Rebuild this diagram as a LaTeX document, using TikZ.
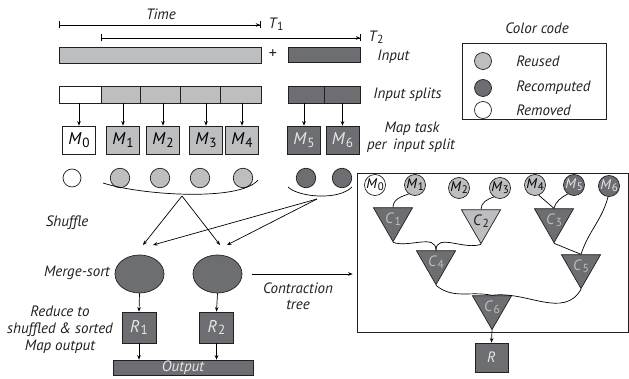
\documentclass[tikz,border=0pt]{standalone}
\usepackage{fontspec}
\setmainfont{PT Sans}
\usetikzlibrary{arrows.meta,shapes.geometric,calc}
\definecolor{lgray}{HTML}{BCBEC0}
\definecolor{dgray}{HTML}{6D6E71}
\definecolor{ink}{HTML}{231F20}
\definecolor{ltxt}{HTML}{E6E7E8}
\newcommand\Ml[2]{\textit{#1}\kern0.04em\raisebox{-0.28ex}{\fontsize{0.78\dimexpr\csname f@size\endcsname pt\relax}{1}\selectfont\upshape#2}}
\begin{document}
\begin{tikzpicture}[x=1pt,y=1pt, line width=0.7pt,
  >={Stealth[length=4.5pt,width=3.6pt]},
  lab/.style={font=\fontsize{15}{17}\selectfont\itshape, text=ink, inner sep=0},
  rbox/.style={draw=ink, rectangle, inner sep=0},
  mbox/.style={rbox, minimum width=33, minimum height=28, font=\fontsize{17}{19}\selectfont},
  mdot/.style={circle, draw=ink, inner sep=0, minimum size=19.5},
  tdot/.style={circle, draw=ink, inner sep=0, minimum size=21, font=\fontsize{14}{16}\selectfont},
  tri/.style={regular polygon, regular polygon sides=3, shape border rotate=180, minimum size=37,
    inner sep=0, draw=ink, font=\fontsize{15}{17}\selectfont},
  edge/.style={draw=ink, line width=0.7pt}]
\useasboundingbox (0,0) rectangle (629,-379);

% time lines
\coordinate (t0) at (59,-25);
\coordinate (t1) at (261,-25);
\coordinate (u0) at (101,-38);
\coordinate (u1) at (361,-38);
\draw[{Bar[width=7pt]}-{Stealth[length=4.5pt,width=3.6pt] Bar[width=7pt]}] (t0) -- (t1);
\draw[{Bar[width=7pt]}-{Stealth[length=4.5pt,width=3.6pt] Bar[width=7pt]}] (u0) -- (u1);
\node[lab] (time) at (161,-14) {Time};
\node[lab] (T1) at (276,-24) {\Ml{T}{1}};
\node[lab] (T2) at (376,-37.5) {\Ml{T}{2}};

% input
\node[rbox, fill=lgray, minimum width=202, minimum height=16] (inA) at (160,-55) {};
\node[lab, font=\fontsize{16}{18}\selectfont] (plus) at (273,-54) {+};
\node[rbox, fill=dgray, minimum width=72, minimum height=15] (inB) at (324,-54.5) {};
\node[lab, anchor=west] (inlab) at (377,-57) {Input};

% splits
\node[rbox, fill=white, minimum width=42, minimum height=17] (s0) at (80,-94.5) {};
\node[rbox, fill=lgray, minimum width=39.5, minimum height=17] (s1) at (120.75,-94.5) {};
\node[rbox, fill=lgray, minimum width=40, minimum height=17] (s2) at (160.5,-94.5) {};
\node[rbox, fill=lgray, minimum width=40, minimum height=17] (s3) at (200.5,-94.5) {};
\node[rbox, fill=lgray, minimum width=40.5, minimum height=17] (s4) at (240.75,-94.5) {};
\node[rbox, fill=dgray, minimum width=36, minimum height=17] (s5) at (306,-94.5) {};
\node[rbox, fill=dgray, minimum width=36, minimum height=17] (s6) at (342,-94.5) {};
\node[lab, anchor=west] (splab) at (373,-95) {Input splits};

% map tasks
\node[mbox, fill=white] (m0) at (79,-140) {\Ml{M}{0}};
\node[mbox, fill=lgray] (m1) at (123,-140) {\Ml{M}{1}};
\node[mbox, fill=lgray] (m2) at (163,-140) {\Ml{M}{2}};
\node[mbox, fill=lgray] (m3) at (206,-140) {\Ml{M}{3}};
\node[mbox, fill=lgray] (m4) at (242,-140) {\Ml{M}{4}};
\node[mbox, fill=dgray, text=ltxt] (m5) at (304,-140) {\Ml{M}{5}};
\node[mbox, fill=dgray, text=ltxt] (m6) at (342.5,-140) {\Ml{M}{6}};
\node[lab] (mt1) at (412,-129) {Map task};
\node[lab] (mt2) at (411,-146) {per\, input split};
\foreach \i in {0,...,6}{\draw[->] (m\i.north |- s\i.south) -- (m\i.north);}

% map outputs
\node[mdot, fill=white, minimum size=18] (c0) at (72,-178) {};
\node[mdot, fill=lgray] (c1) at (120,-178) {};
\node[mdot, fill=lgray] (c2) at (160,-178) {};
\node[mdot, fill=lgray] (c3) at (200,-178) {};
\node[mdot, fill=lgray] (c4) at (243,-178) {};
\node[mdot, fill=dgray] (c5) at (306,-178) {};
\node[mdot, fill=dgray] (c6) at (342,-178) {};

% braces
\coordinate (gb0) at (103,-183);
\coordinate (gb1) at (258,-180);
\coordinate (ga) at (182,-196);
\coordinate (db0) at (288,-187);
\coordinate (db1) at (352,-187);
\coordinate (da) at (317,-199);
\draw (gb0) .. controls (140,-195) and (240,-202) .. (gb1);
\draw (db0) .. controls (298,-197) and (338,-201) .. (db1);

% merge-sort
\node[ellipse, draw=ink, fill=dgray, minimum width=49, minimum height=38, inner sep=0] (e1) at (139.5,-274) {};
\node[ellipse, draw=ink, fill=dgray, minimum width=49, minimum height=38, inner sep=0] (e2) at (217.5,-274) {};
\coordinate (e1a) at (143,-245);
\coordinate (e1b) at (153,-245);
\coordinate (e2a) at (220,-245);
\coordinate (e2b) at (227,-245);
\draw[->] (ga) -- (e1a);
\draw[->] (ga) -- (e2a);
\draw[->] (da) -- (e1b);
\draw[->] (da) -- (e2b);
\node[lab] (shuf) at (67,-223) {Shuffle};
\node[lab] (msort) at (77,-273) {Merge-sort};

% reduce
\node[rbox, fill=dgray, text=ltxt, minimum width=34, minimum height=31, font=\fontsize{17}{19}\selectfont] (r1) at (139,-327.5) {\Ml{R}{1}};
\node[rbox, fill=dgray, text=ltxt, minimum width=34, minimum height=31, font=\fontsize{17}{19}\selectfont] (r2) at (216.5,-327.5) {\Ml{R}{2}};
\node[rbox, fill=dgray, text=ltxt, minimum width=140, minimum height=15, font=\fontsize{15}{17}\selectfont\itshape] (out) at (183,-367.5) {Output};
\draw[->] (e1.south) -- (r1.north);
\draw[->] (e2.south) -- (r2.north);
\draw[->] (r1.south) -- (r1.south |- out.north);
\draw[->] (r2.south) -- (r2.south |- out.north);
\node[lab, align=center] (red) at (60,-330) {Reduce to\\shuffled \& sorted\\Map output};

% contraction tree box
\node[rbox, minimum width=271, minimum height=159] (tb) at (492.5,-252.5) {};
\draw[->, shorten <=10pt, shorten >=4pt] (e2.east) -- (e2.east -| tb.west);
\node[lab] (ct1) at (298,-288) {Contraction};
\node[lab] (ct2) at (298,-305) {tree};

\node[tdot, fill=white] (n0) at (375,-185) {\Ml{M}{0}};
\node[tdot, fill=lgray] (n1) at (415,-185) {\Ml{M}{1}};
\node[tdot, fill=lgray] (n2) at (459,-188) {\Ml{M}{2}};
\node[tdot, fill=lgray] (n3) at (500,-188) {\Ml{M}{3}};
\node[tdot, fill=lgray] (n4) at (535,-185) {\Ml{M}{4}};
\node[tdot, fill=dgray, text=ltxt] (n5) at (574,-185) {\Ml{M}{5}};
\node[tdot, fill=dgray, text=ltxt] (n6) at (609,-186) {\Ml{M}{6}};

\node[tri, fill=dgray, text=lgray] (k1) at (393,-219) {\Ml{C}{1}};
\node[tri, fill=lgray, text=ink] (k2) at (481,-221) {\Ml{C}{2}};
\node[tri, fill=dgray, text=lgray] (k3) at (554,-220) {\Ml{C}{3}};
\node[tri, fill=dgray, text=lgray] (k4) at (436,-262) {\Ml{C}{4}};
\node[tri, fill=dgray, text=lgray] (k5) at (581,-266) {\Ml{C}{5}};
\node[tri, fill=dgray, text=lgray] (k6) at (492,-307) {\Ml{C}{6}};

\draw (n1.235) to[out=200,in=90] (k1.north);
\draw (n3.235) to[out=200,in=90] (k2.north);
\draw (n4.290) -- (k3.north);
\draw (n5.235) to[out=210,in=75] (k3.north);
\draw (n6.265) to[out=-105,in=72] (k5.north);
\draw (k3.south) -- (k5.north);
\draw (k1.south) to[out=-20,in=90] (k4.north);
\draw (k2.south) to[out=200,in=90] (k4.north);
\draw (k4.south) to[out=-40,in=168] (k6.north);
\draw (k5.south) to[out=-120,in=8] (k6.north);

\node[rbox, fill=dgray, text=ltxt, minimum width=33, minimum height=29, font=\fontsize{15}{17}\selectfont\itshape] (rr) at (491.5,-357.5) {R};
\draw[->] (k6.south) -- (rr.north);

% legend
\node[lab] (cc) at (537,-28) {Color code};
\node[rbox, minimum width=144, minimum height=76] (lgbox) at (534,-81) {};
\node[mdot, fill=lgray, minimum size=17] (lc1) at (483,-61) {};
\node[mdot, fill=dgray, minimum size=17] (lc2) at (483,-88) {};
\node[mdot, fill=white, minimum size=17] (lc3) at (483,-110) {};
\node[lab, anchor=west] (l1) at (516,-61) {Reused};
\node[lab, anchor=west] (l2) at (516,-88) {Recomputed};
\node[lab, anchor=west] (l3) at (516,-110) {Removed};
\end{tikzpicture}
\end{document}
